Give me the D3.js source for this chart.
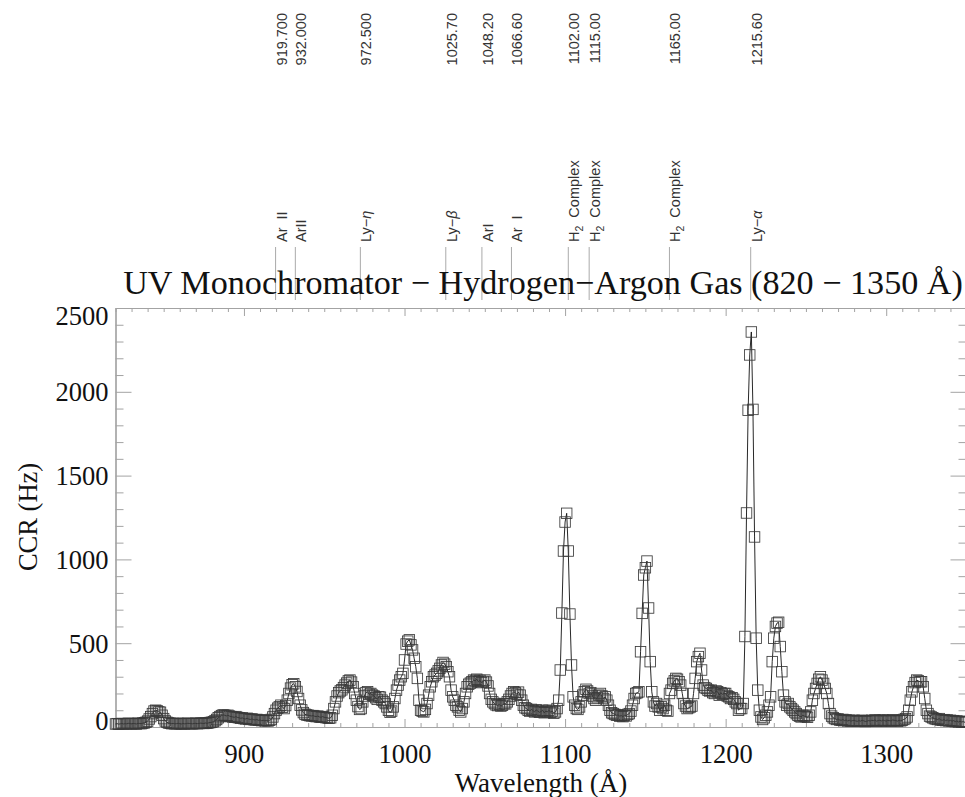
<!DOCTYPE html>
<html>
<head>
<meta charset="utf-8">
<script src="https://cdn.jsdelivr.net/npm/d3@7"></script>
<style>
  body { margin: 0; background: #fff; }
  svg { display: block; }
</style>
</head>
<body>
<svg id="chart" width="965" height="797"></svg>
<script>
// Monochromator scan: count rate sampled every 1 Å from 820 Å
const wavelengthStart = 820;
const wavelengthStep = 1;
const ccr = [
  18, 20, 17, 19, 21, 18, 20, 19, 22, 20,            // 820
  19, 21, 20, 18, 22, 21, 20, 23, 25, 28,            // 830
  35, 48, 62, 80, 95, 100, 96, 90, 88, 70,           // 840
  50, 36, 28, 24, 22, 20, 21, 19, 20, 22,            // 850
  20, 18, 21, 19, 20, 22, 21, 20, 19, 21,            // 860
  22, 20, 21, 23, 22, 21, 24, 22, 25, 27,            // 870
  28, 32, 38, 45, 55, 62, 68, 72, 70, 66,            // 880
  70, 65, 62, 60, 58, 62, 57, 55, 52, 54,            // 890
  50, 48, 52, 47, 45, 48, 44, 42, 45, 40,            // 900
  42, 38, 40, 37, 39, 36, 40, 45, 60, 80,            // 910
  100, 112, 120, 130, 118, 110, 128, 160, 200, 232,  // 920
  252, 258, 240, 212, 170, 130, 102, 86, 76, 72,     // 930
  70, 68, 66, 68, 64, 62, 65, 60, 58, 62,            // 940
  58, 56, 55, 52, 55, 70, 110, 150, 185, 205,        // 950
  215, 222, 235, 250, 262, 275, 280, 268, 240, 200,  // 960
  160, 122, 105, 110, 150, 185, 205, 210, 195, 200,  // 970
  190, 185, 175, 165, 180, 178, 160, 150, 140, 120,  // 980
  100, 88, 95, 120, 170, 220, 250, 280, 300, 320,    // 990
  400, 495, 512, 520, 490, 460, 410, 360, 290, 160,  // 1000
  100, 95, 90, 105, 140, 190, 240, 270, 300, 310,    // 1010
  320, 335, 350, 370, 385, 375, 360, 330, 300, 220,  // 1020
  180, 160, 130, 120, 100, 90, 110, 150, 200, 240,   // 1030
  255, 262, 270, 280, 275, 285, 270, 278, 265, 272,  // 1040
  280, 268, 245, 200, 165, 150, 140, 132, 128, 135,  // 1050
  125, 130, 140, 138, 150, 165, 185, 200, 210, 205,  // 1060
  195, 208, 190, 160, 130, 115, 110, 100, 95, 105,   // 1070
  98, 90, 102, 95, 88, 92, 100, 85, 95, 90,          // 1080
  100, 88, 95, 82, 90, 110, 160, 340, 680, 1050,     // 1090
  1223, 1275, 1050, 674, 370, 180, 130, 110, 105, 120, // 1100
  150, 190, 210, 225, 215, 200, 205, 185, 170, 160,  // 1110
  175, 190, 200, 185, 170, 180, 160, 130, 100, 85,   // 1120
  80, 75, 70, 72, 65, 68, 62, 70, 66, 75,            // 1130
  80, 95, 130, 170, 200, 205, 210, 449, 678, 907,    // 1140
  950, 990, 710, 390, 210, 150, 125, 140, 120, 100,  // 1150
  120, 110, 130, 100, 95, 200, 220, 260, 275, 290,   // 1160
  285, 270, 250, 200, 140, 125, 110, 115, 120, 125,  // 1170
  200, 290, 390, 420, 440, 340, 250, 235, 230, 220,  // 1180
  215, 220, 205, 200, 215, 210, 190, 205, 195, 200,  // 1190
  200, 185, 180, 170, 175, 165, 150, 140, 100, 110,  // 1200
  110, 140, 540, 1277, 1890, 2220, 2357, 1895, 1134, 530, // 1210
  220, 100, 60, 45, 55, 70, 90, 130, 180, 390,       // 1220
  530, 600, 620, 625, 480, 330, 190, 150, 130, 140,  // 1230
  120, 110, 100, 90, 80, 70, 65, 60, 70, 65,         // 1240
  62, 58, 70, 90, 160, 200, 230, 260, 285, 300,      // 1250
  280, 260, 230, 200, 140, 80, 65, 55, 50, 45,       // 1260
  48, 42, 40, 45, 38, 42, 36, 40, 35, 38,            // 1270
  40, 36, 34, 38, 35, 40, 37, 33, 35, 38,            // 1280
  36, 40, 38, 42, 35, 38, 40, 36, 42, 38,            // 1290
  35, 40, 38, 36, 42, 40, 38, 35, 40, 37,            // 1300
  40, 45, 50, 60, 100, 160, 210, 240, 265, 280,      // 1310
  275, 270, 270, 240, 170, 100, 80, 65, 60, 55,      // 1320
  50, 48, 45, 50, 42, 40, 44, 38, 42, 36,            // 1330
  40, 35, 38, 32, 36, 30, 34, 30, 32, 28,            // 1340
  30                                                 // 1350
];

// Reference emission lines marked above the plot
const lineWavelengths = [919.7, 932.0, 972.5, 1025.7, 1048.2, 1066.6, 1102.0, 1115.0, 1165.0, 1215.6];
const lineNames = ["Ar  II", "ArII", "Ly\u2212\u03b7", "Ly\u2212\u03b2", "ArI", "Ar  I",
                   "H\u2082  Complex", "H\u2082  Complex", "H\u2082  Complex", "Ly\u2212\u03b1"];

const xDomain = [820, 1350];
const yDomain = [0, 2500];
const xMajorTicks = [900, 1000, 1100, 1200, 1300];
const yMajorTicks = [0, 500, 1000, 1500, 2000, 2500];
const xMinorStep = 10;
const yMinorStep = 100;

const titleText = "UV Monochromator \u2212 Hydrogen\u2212Argon Gas (820 \u2212 1350 \u00c5)";
const xLabel = "Wavelength (\u00c5)";
const yLabel = "CCR (Hz)";

// ---- layout ----
const plot = { left: 115.5, right: 966.5, top: 308, bottom: 727 };
const axisColor = "#a3a3a3";
const serif = "'Liberation Serif', 'Times New Roman', serif";
const sans = "'Liberation Sans', Arial, sans-serif";

const svg = d3.select("#chart");

const x = d3.scaleLinear().domain(xDomain).range([plot.left, plot.right]);
const y = d3.scaleLinear().domain(yDomain).range([plot.bottom, plot.top]);

const points = ccr.map((v, i) => ({ wl: wavelengthStart + i * wavelengthStep, v }));

// ---- axes (ticks point inward on all four sides) ----
const xMinor = d3.range(xDomain[0], xDomain[1] + 1, xMinorStep).filter(t => !xMajorTicks.includes(t));
const yMinor = d3.range(yDomain[0], yDomain[1] + 1, yMinorStep).filter(t => !yMajorTicks.includes(t));

function styleAxis(g) {
  g.selectAll("path.domain").attr("stroke", axisColor).attr("stroke-width", 1.2);
  g.selectAll(".tick line").attr("stroke", axisColor).attr("stroke-width", 1);
}

// bottom
svg.append("g").attr("transform", `translate(0,${plot.bottom})`)
  .call(d3.axisBottom(x).tickValues(xMinor).tickSize(-4).tickSizeOuter(0).tickFormat(""))
  .call(styleAxis);
const xAxisG = svg.append("g").attr("transform", `translate(0,${plot.bottom})`)
  .call(d3.axisBottom(x).tickValues(xMajorTicks).tickSize(-8).tickSizeOuter(0).tickPadding(17).tickFormat(d3.format("d")))
  .call(styleAxis);
xAxisG.selectAll("text").attr("font-family", serif).attr("font-size", 26.5).attr("fill", "#111");

// top
svg.append("g").attr("transform", `translate(0,${plot.top})`)
  .call(d3.axisTop(x).tickValues(xMinor).tickSize(-4).tickSizeOuter(0).tickFormat(""))
  .call(styleAxis);
svg.append("g").attr("transform", `translate(0,${plot.top})`)
  .call(d3.axisTop(x).tickValues(xMajorTicks).tickSize(-8).tickSizeOuter(0).tickFormat(""))
  .call(styleAxis);

// left
svg.append("g").attr("transform", `translate(${plot.left},0)`)
  .call(d3.axisLeft(y).tickValues(yMinor).tickSize(-8).tickSizeOuter(0).tickFormat(""))
  .call(styleAxis);
const yAxisG = svg.append("g").attr("transform", `translate(${plot.left},0)`)
  .call(d3.axisLeft(y).tickValues(yMajorTicks).tickSize(-16).tickSizeOuter(0).tickPadding(7).tickFormat(d3.format("d")))
  .call(styleAxis);
yAxisG.selectAll("text").attr("font-family", serif).attr("font-size", 26.5).attr("fill", "#111")
  .attr("dy", d => d === yDomain[1] ? "0.62em" : d === yDomain[0] ? "0.08em" : "0.34em");

// right
svg.append("g").attr("transform", `translate(${plot.right},0)`)
  .call(d3.axisRight(y).tickValues(yMinor).tickSize(-8).tickSizeOuter(0).tickFormat(""))
  .call(styleAxis);
svg.append("g").attr("transform", `translate(${plot.right},0)`)
  .call(d3.axisRight(y).tickValues(yMajorTicks).tickSize(-16).tickSizeOuter(0).tickFormat(""))
  .call(styleAxis);

// ---- spectrum: connecting line plus open square markers ----
const line = d3.line().x(d => x(d.wl)).y(d => y(d.v));
svg.append("path")
  .datum(points)
  .attr("fill", "none")
  .attr("stroke", "#111")
  .attr("stroke-width", 0.9)
  .attr("d", line);

const markerSize = 10.5;
svg.append("g")
  .selectAll("rect")
  .data(points)
  .join("rect")
  .attr("x", d => x(d.wl) - markerSize / 2)
  .attr("y", d => y(d.v) - markerSize / 2)
  .attr("width", markerSize)
  .attr("height", markerSize)
  .attr("fill", "none")
  .attr("stroke", "#3a3a3a")
  .attr("stroke-width", 0.85);

// ---- emission line markers and their labels ----
const markG = svg.append("g");
markG.selectAll("line")
  .data(lineWavelengths)
  .join("line")
  .attr("x1", d => x(d)).attr("x2", d => x(d))
  .attr("y1", 247).attr("y2", 300)
  .attr("stroke", "#aaaaaa")
  .attr("stroke-width", 1);

function richLabel(textSel, str) {
  let shifted = false;
  for (const ch of str) {
    if (ch === "\u2082") {
      textSel.append("tspan").attr("font-size", "0.72em").attr("dy", 4).text("2");
      shifted = true;
    } else {
      const t = textSel.append("tspan").text(ch);
      if (shifted) { t.attr("dy", -4); shifted = false; }
      if (/[\u0370-\u03ff]/.test(ch)) t.attr("font-style", "italic");
    }
  }
}

lineWavelengths.forEach((wl, i) => {
  const nameT = markG.append("text")
    .attr("transform", `translate(${x(wl) + 11},242) rotate(-90)`)
    .attr("font-family", sans)
    .attr("font-size", 14.5)
    .attr("fill", "#333")
    .attr("xml:space", "preserve")
    .style("white-space", "pre");
  richLabel(nameT, lineNames[i]);

  markG.append("text")
    .attr("transform", `translate(${x(wl) + 11},13) rotate(-90)`)
    .attr("text-anchor", "end")
    .attr("font-family", sans)
    .attr("font-size", 14.5)
    .attr("fill", "#333")
    .text(wl < 1000 ? wl.toFixed(3) : wl.toFixed(2));
});

// ---- title and axis titles ----
const title = svg.append("text")
  .attr("x", (plot.left + plot.right) / 2 + 2)
  .attr("y", 294)
  .attr("text-anchor", "middle")
  .attr("font-family", serif)
  .attr("font-size", 30)
  .attr("fill", "#111")
  .text(titleText);
const tLen = title.node().getComputedTextLength();
title.attr("font-size", 30 * 840 / tLen);

svg.append("text")
  .attr("x", (plot.left + plot.right) / 2)
  .attr("y", 792)
  .attr("text-anchor", "middle")
  .attr("font-family", serif)
  .attr("font-size", 27)
  .attr("fill", "#111")
  .text(xLabel);

svg.append("text")
  .attr("transform", `translate(37,517) rotate(-90)`)
  .attr("text-anchor", "middle")
  .attr("font-family", serif)
  .attr("font-size", 26.5)
  .attr("fill", "#111")
  .text(yLabel);
</script>
</body>
</html>
